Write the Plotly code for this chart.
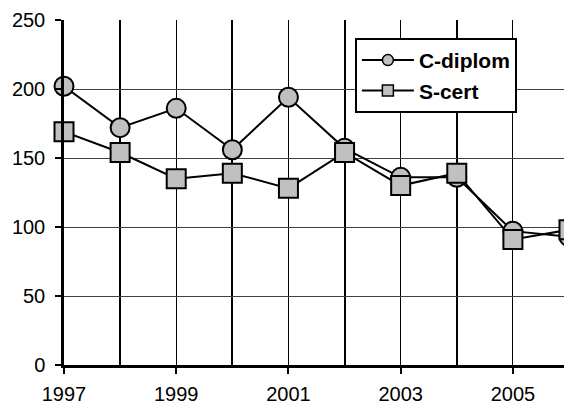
import plotly.graph_objects as go

years = [1997, 1998, 1999, 2000, 2001, 2002, 2003, 2004, 2005, 2006]
c_diplom = [202, 172, 186, 156, 194, 157, 136, 136, 97, 93]
s_cert = [169, 154, 135, 139, 128, 154, 130, 139, 91, 98]
series = [("C-diplom", c_diplom, "circle"), ("S-cert", s_cert, "square")]

fig = go.Figure()
for name, vals, sym in series:
    fig.add_trace(go.Scatter(
        x=years, y=vals, name=name, mode="lines+markers",
        line=dict(color="black", width=2),
        marker=dict(symbol=sym, size=19, color="#c0c0c0", line=dict(color="black", width=2)),
        cliponaxis=False, legendgroup=name, showlegend=False))
# legend entries (smaller markers, as in the reference legend)
for name, vals, sym in series:
    fig.add_trace(go.Scatter(
        x=[None], y=[None], name=name, mode="lines+markers",
        line=dict(color="black", width=2),
        marker=dict(symbol=sym, size=11, color="#c0c0c0", line=dict(color="black", width=1.5)),
        legendgroup=name, showlegend=True))

fig.update_layout(
    width=564, height=397,
    margin=dict(l=56, r=3, t=12, b=40),
    paper_bgcolor="white", plot_bgcolor="white",
    font=dict(family="Liberation Sans, Arial, sans-serif", color="black", size=20),
    showlegend=True,
    legend=dict(
        x=0.576, y=0.948, xanchor="left", yanchor="top",
        bgcolor="white", bordercolor="black", borderwidth=2,
        font=dict(size=21, family="Liberation Sans, Arial, sans-serif", color="black", weight="bold"),
        itemwidth=52, tracegroupgap=0, traceorder="normal"),
    xaxis=dict(
        range=[1997, 2006], tick0=1997, dtick=2, automargin=False,
        showgrid=True, gridcolor="black", gridwidth=1,
        showline=True, linecolor="black", linewidth=2.5,
        ticks="outside", ticklen=6, tickwidth=2, tickcolor="black",
        ticklabelstandoff=3,
        minor=dict(dtick=1, tick0=1997, showgrid=True, gridcolor="black", gridwidth=2, ticks=""),
        zeroline=False),
    yaxis=dict(
        range=[0, 250], tick0=0, dtick=50, automargin=False,
        showgrid=True, gridcolor="#404040", gridwidth=1,
        showline=True, linecolor="black", linewidth=2.5,
        ticks="outside", ticklen=6, tickwidth=2, tickcolor="black",
        ticklabelstandoff=6,
        zeroline=False),
)

fig.write_html("out.html")
